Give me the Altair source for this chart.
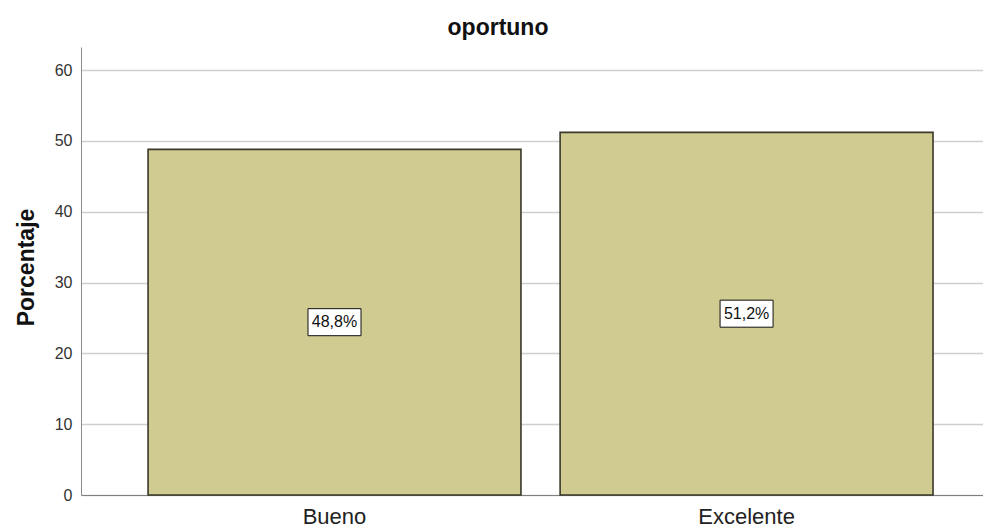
import altair as alt
import pandas as pd

categories = ["Bueno", "Excelente"]
values = [48.8, 51.2]
labels = ["48,8%", "51,2%"]
y_ticks = [0, 10, 20, 30, 40, 50, 60]

df = pd.DataFrame({"cat": categories, "val": values, "lab": labels})

FONT = "Liberation Sans"

x_enc = alt.X(
    "cat:N",
    sort=categories,
    scale=alt.Scale(paddingInner=0.095, paddingOuter=0.142, align=0.573),
    axis=alt.Axis(
        title=None, labelAngle=0, labelFontSize=22, labelColor="#222222",
        labelFont=FONT, labelPadding=11, ticks=False,
        domainColor="#808080", domainWidth=1, grid=False,
    ),
)

y_axis = alt.Axis(
    values=y_ticks, title="Porcentaje", titleFont=FONT, titleFontSize=23,
    titleFontWeight="bold", titleColor="#111111", titleX=-48, titleY=220,
    titleAngle=270, titleAlign="center", titleBaseline="alphabetic",
    labelFont=FONT, labelFontSize=16, labelColor="#333333", labelPadding=9,
    ticks=False, domainColor="#8a8a8a", domainWidth=1,
    gridColor="#cfcfcf", gridWidth=1.5,
)
y_scale = alt.Scale(domain=[0, 63.25], nice=False, zero=True)

base = alt.Chart(df)

bars = base.mark_bar(fill="#D0CB91", stroke="#3a392b", strokeWidth=1.6).encode(
    x=x_enc,
    y=alt.Y("val:Q", scale=y_scale, axis=y_axis),
)

boxes = base.transform_calculate(mid="datum.val / 2").mark_point(
    shape="M-1,-0.51H1V0.51H-1Z", size=2809, filled=True, fill="white",
    stroke="#111111", strokeWidth=1, opacity=1,
).encode(
    x=x_enc,
    y=alt.Y("mid:Q", scale=y_scale, axis=y_axis),
)

texts = base.transform_calculate(mid="datum.val / 2").mark_text(
    font=FONT, fontSize=16, color="#111111", baseline="middle", align="center",
).encode(
    x=x_enc,
    y=alt.Y("mid:Q", scale=y_scale, axis=y_axis),
    text="lab:N",
)

chart = alt.layer(bars, boxes, texts).properties(
    width=902,
    height=448,
    title=alt.TitleParams(
        "oportuno", font=FONT, fontSize=23, fontWeight="bold", color="#111111",
        anchor="middle", dx=-34, dy=23, offset=12, baseline="alphabetic",
    ),
    padding={"left": 73, "top": 39, "right": 0, "bottom": 35},
    autosize=alt.AutoSizeParams(type="none"),
).configure_view(stroke=None)

chart.save("out.html", embed_options={"renderer": "svg", "actions": False})
